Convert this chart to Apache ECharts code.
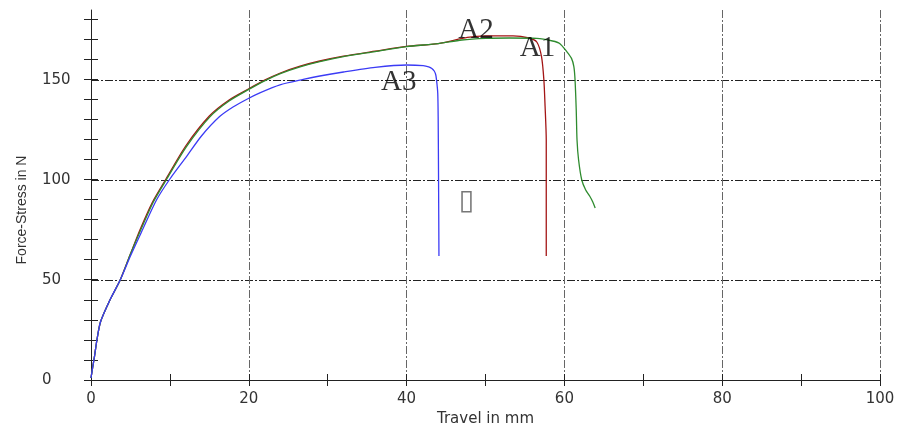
<!DOCTYPE html>
<html>
<head>
<meta charset="utf-8">
<script src="https://cdn.jsdelivr.net/npm/echarts@6/dist/echarts.min.js"></script>
<style>
html,body{margin:0;padding:0;background:#fff;}
#chart{width:898px;height:433px;}
</style>
</head>
<body>
<div id="chart"></div>
<script>
// ---- data (Travel in mm, Force-Stress in N) ----
var xTicks = [0, 20, 40, 60, 80, 100];
var yTicks = [0, 50, 100, 150];

var a1Travel = [0, 0.2, 0.45, 0.75, 1.2, 2.4, 3.7, 5.0, 6.2, 7.8, 9.5, 12.0, 15.0, 17.5, 20, 22, 24, 26.5, 29, 32, 36, 40, 44, 47.7, 50, 53.5, 55.5, 56.5, 57.1, 57.4, 57.55, 57.7, 57.7];
var a1Force  = [1, 6, 12, 20, 29, 40, 50, 63, 75, 89, 100.5, 117, 132, 140, 145.6, 149.9, 153.5, 156.9, 159.5, 161.9, 164.4, 166.8, 168.2, 171.3, 172.1, 172.1, 171, 169, 161.7, 150, 137, 120, 62];

var a2Travel = [0, 0.2, 0.45, 0.75, 1.2, 2.4, 3.7, 5.0, 6.3, 7.9, 9.6, 12.1, 15.1, 17.5, 20, 22, 24, 26.5, 29, 32, 36, 40, 44, 47, 50, 53, 56.5, 58.5, 59.4, 60.3, 60.9, 61.2, 61.35, 61.5, 61.6, 61.8, 62.2, 62.7, 63.2, 63.6, 63.9];
var a2Force  = [1, 6, 12, 20, 29, 40, 50, 63, 75, 89, 100.5, 116.7, 131.7, 139.5, 145.3, 149.6, 153.2, 156.6, 159.2, 161.7, 164.2, 166.7, 168.2, 170, 170.8, 171, 170.8, 169.5, 168.3, 164.2, 160.8, 156.7, 150, 135, 120, 110, 100, 95, 92, 89, 86];

var a3Travel = [0, 0.2, 0.45, 0.75, 1.2, 2.4, 3.7, 5.0, 6.4, 8.3, 10.0, 12.1, 14.0, 16.3, 18.0, 20, 21.4, 23.95, 26.9, 29, 32, 36, 40, 42.1, 42.8, 43.2, 43.5, 43.7, 43.85, 43.95, 44.0, 44.05, 44.1];
var a3Force  = [1, 6, 12, 20, 29, 40, 50, 62, 74, 90, 100.5, 111.7, 122, 131.7, 136.5, 140.9, 143.6, 147.6, 150.3, 152, 154, 156.3, 157.5, 157.2, 156.6, 155.8, 154.5, 152.5, 148, 143.3, 131.7, 100, 62];

// curve name labels (text) in data coordinates
var labelNames  = ['A2', 'A1', 'A3'];
var labelTravel = [48.8, 56.6, 39.0];
var labelForce  = [175, 166, 149];
// unknown glyph box shown in the picture
var glyphText = ['\u25AF'];
var glyphTravel = [47.6];
var glyphForce = [89];

function zip(xs, ys) { return xs.map(function (x, i) { return [x, ys[i]]; }); }

var chart = echarts.init(document.getElementById('chart'), null, {renderer: 'canvas'});
var dashDot = [8, 2, 2, 2];
var sansW = 'DejaVu Sans';

var option = {
  animation: false,
  backgroundColor: '#ffffff',
  grid: [
    {left: 91, right: 18, top: 10, bottom: 53},
    {left: 91, right: 18, top: 19, bottom: 53}
  ],
  xAxis: [
    {
      gridIndex: 0, type: 'value', position: 'bottom', min: 0, max: 100, interval: 20,
      axisLine: {show: true, onZero: false, lineStyle: {color: '#222', width: 1}},
      axisTick: {show: false},
      axisLabel: {margin: 12, fontFamily: sansW, fontSize: 15, color: '#333',
        customValues: xTicks},
      splitLine: {show: true, showMinLine: false, lineStyle: {color: '#666', type: dashDot, width: 1}},
      name: 'Travel in mm', nameLocation: 'middle', nameGap: 32,
      nameTextStyle: {fontFamily: sansW, fontSize: 15, color: '#333'}
    },
    {
      gridIndex: 0, type: 'value', position: 'bottom', min: 0, max: 100, interval: 10,
      axisLine: {show: false, onZero: false},
      axisTick: {show: true, inside: false, length: 6, lineStyle: {color: '#222'}},
      axisLabel: {show: false}, splitLine: {show: false}
    },
    {
      gridIndex: 0, type: 'value', position: 'bottom', min: 0, max: 100, interval: 10,
      axisLine: {show: false, onZero: false},
      axisTick: {show: true, inside: true, length: 6, lineStyle: {color: '#222'}},
      axisLabel: {show: false}, splitLine: {show: false}
    },
    {gridIndex: 1, type: 'value', min: 0, max: 100, show: false}
  ],
  yAxis: [
    {
      gridIndex: 0, type: 'value', position: 'left', min: 0, max: 185, interval: 50,
      axisLine: {show: true, onZero: false, lineStyle: {color: '#222', width: 1}},
      axisTick: {show: false},
      axisLabel: {align: 'left', margin: 49, fontFamily: sansW, fontSize: 15, color: '#333',
        showMaxLabel: false,
        formatter: function (v) { return yTicks.indexOf(v) >= 0 ? String(v) : ''; }},
      splitLine: {show: true, showMinLine: false, showMaxLine: false,
        lineStyle: {color: '#222', type: dashDot, width: 1}},
      name: 'Force-Stress in N', nameLocation: 'middle', nameGap: 62, nameRotate: 90,
      nameTextStyle: {fontFamily: 'Liberation Sans', fontSize: 14, color: '#333', padding: [0, 30, 0, 0]}
    },
    {
      gridIndex: 1, type: 'value', position: 'left', min: 0, max: 180, interval: 10,
      axisLine: {show: false, onZero: false},
      axisTick: {show: true, inside: false, length: 7, lineStyle: {color: '#222'}},
      axisLabel: {show: false}, splitLine: {show: false}
    },
    {
      gridIndex: 1, type: 'value', position: 'left', min: 0, max: 180, interval: 10,
      axisLine: {show: false, onZero: false},
      axisTick: {show: true, inside: true, length: 7, lineStyle: {color: '#222'}},
      axisLabel: {show: false}, splitLine: {show: false}
    }
  ],
  series: [
    {
      name: 'A1', type: 'line', xAxisIndex: 0, yAxisIndex: 0, data: zip(a1Travel, a1Force),
      showSymbol: false, symbol: 'none', smooth: 0.25,
      lineStyle: {color: '#a31515', width: 1.3}, z: 2
    },
    {
      name: 'A2', type: 'line', xAxisIndex: 0, yAxisIndex: 0, data: zip(a2Travel, a2Force),
      showSymbol: false, symbol: 'none', smooth: 0.25,
      lineStyle: {color: '#2e8b2e', width: 1.3}, z: 3
    },
    {
      name: 'A3', type: 'line', xAxisIndex: 0, yAxisIndex: 0, data: zip(a3Travel, a3Force),
      showSymbol: false, symbol: 'none', smooth: 0.25,
      lineStyle: {color: '#3b3bf5', width: 1.3}, z: 3
    },
    {
      type: 'scatter', xAxisIndex: 0, yAxisIndex: 0, symbolSize: 0, z: 5, silent: true,
      data: labelNames.map(function (n, i) { return {name: n, value: [labelTravel[i], labelForce[i]]}; }),
      label: {show: true, position: 'inside', formatter: function (p) { return p.name; },
        fontFamily: 'Liberation Serif', fontSize: 29, color: '#000'}
    },
    {
      type: 'scatter', xAxisIndex: 0, yAxisIndex: 0, symbolSize: 0, z: 5, silent: true,
      data: glyphText.map(function (n, i) { return {name: n, value: [glyphTravel[i], glyphForce[i]]}; }),
      label: {show: true, position: 'inside', formatter: function (p) { return p.name; },
        fontFamily: 'DejaVu Sans', fontSize: 28, color: '#555'}
    }
  ]
};
chart.setOption(option);
</script>
</body>
</html>
